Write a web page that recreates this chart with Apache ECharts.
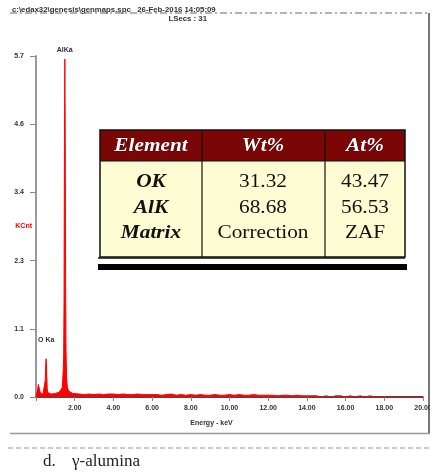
<!DOCTYPE html>
<html>
<head>
<meta charset="utf-8">
<script src="https://cdn.jsdelivr.net/npm/echarts@6/dist/echarts.min.js"></script>
<style>
  html, body { margin: 0; padding: 0; background: #fff; }
  #chart { width: 434px; height: 472px; }
</style>
</head>
<body>
<div id="chart"></div>
<script>
// EDS spectrum of gamma-alumina: [energy keV, counts in KCnt]
const spectrum = [
  [0.00, 0.00], [0.04, 0.03], [0.08, 0.12], [0.12, 0.21], [0.16, 0.20], [0.20, 0.10],
  [0.24, 0.06], [0.28, 0.05], [0.32, 0.04], [0.36, 0.05], [0.40, 0.06], [0.44, 0.08],
  [0.48, 0.28], [0.50, 0.52], [0.52, 0.64], [0.54, 0.56], [0.56, 0.32], [0.58, 0.13],
  [0.62, 0.07], [0.70, 0.06], [0.80, 0.05], [0.90, 0.06], [1.00, 0.06], [1.10, 0.07],
  [1.20, 0.08], [1.30, 0.10], [1.36, 0.16], [1.40, 0.40], [1.43, 0.68], [1.45, 1.60],
  [1.47, 4.10], [1.49, 5.65], [1.51, 4.40], [1.53, 2.00], [1.55, 0.80], [1.58, 0.33],
  [1.62, 0.17], [1.68, 0.10], [1.76, 0.07], [1.90, 0.06],
  [2.00, 0.04], [2.25, 0.05], [2.50, 0.04], [2.75, 0.05], [3.00, 0.04], [3.25, 0.05],
  [3.50, 0.04], [3.75, 0.05], [4.00, 0.05], [4.25, 0.04], [4.50, 0.05], [4.75, 0.04],
  [5.00, 0.04], [5.25, 0.05], [5.50, 0.04], [5.75, 0.04], [6.00, 0.04], [6.25, 0.04],
  [6.50, 0.03], [6.75, 0.04], [7.00, 0.05], [7.25, 0.03], [7.50, 0.04], [7.75, 0.03],
  [8.00, 0.04], [8.25, 0.03], [8.50, 0.04], [8.75, 0.03], [9.00, 0.03], [9.25, 0.04],
  [9.50, 0.03], [9.75, 0.03], [10.00, 0.04], [10.25, 0.03], [10.50, 0.04], [10.75, 0.03],
  [11.00, 0.03], [11.25, 0.04], [11.50, 0.03], [11.75, 0.03], [12.00, 0.03], [12.25, 0.03],
  [12.50, 0.02], [12.75, 0.03], [13.00, 0.03], [13.25, 0.02], [13.50, 0.03], [13.75, 0.02],
  [14.00, 0.02], [14.25, 0.02], [14.50, 0.02], [14.75, 0.00], [15.00, 0.02], [15.25, 0.00],
  [15.50, 0.02], [15.75, 0.02], [16.00, 0.00], [16.25, 0.02], [16.50, 0.00], [16.75, 0.02],
  [17.00, 0.00], [17.25, 0.02], [17.50, 0.00], [20.00, 0.00]
];

// Axis ranges
const energyMax = 20;
const energyStep = 2;
const countMax = 5.7;
const countStep = 1.14;

// Peak identifications
const peakNames = ['AlKa', 'O Ka'];
const peakEnergies = [1.486, 0.525];
const peakHeights = [5.65, 0.64];
const peakLabelGaps = [5, 15];

// Quantification table
const tableHeader = ['Element', 'Wt%', 'At%'];
const tableRows = [
  ['OK', '31.32', '43.47'],
  ['AlK', '68.68', '56.53'],
  ['Matrix', 'Correction', 'ZAF']
];

// Acquisition info and caption
const fileInfo = 'c:\\edax32\\genesis\\genmaps.spc   26-Feb-2016 14:05:09';
const liveTime = 'LSecs : 31';
const captionLetter = 'd.';
const captionText = 'γ-alumina';

const chart = echarts.init(document.getElementById('chart'), null, { renderer: 'canvas' });

const serif = '"Liberation Serif", "DejaVu Serif", serif';
const sans = '"Liberation Sans", Arial, sans-serif';

// ---- table drawing ----
const colEdges = [100, 202, 325, 405];
const headTop = 130, headBottom = 161, bodyBottom = 257;
const rowCenters = [182, 208, 233];
const tableEls = [];
tableEls.push({ type: 'rect', shape: { x: colEdges[0], y: headTop, width: colEdges[3] - colEdges[0], height: headBottom - headTop },
  style: { fill: '#7a0606' }, z: 10 });
tableEls.push({ type: 'rect', shape: { x: colEdges[0], y: headBottom, width: colEdges[3] - colEdges[0], height: bodyBottom - headBottom },
  style: { fill: '#fdfcd2' }, z: 10 });
tableEls.push({ type: 'rect', shape: { x: colEdges[0], y: headTop, width: colEdges[3] - colEdges[0], height: bodyBottom - headTop },
  style: { fill: null, stroke: '#111', lineWidth: 1.5 }, z: 12 });
tableEls.push({ type: 'line', shape: { x1: colEdges[0], y1: headBottom, x2: colEdges[3], y2: headBottom },
  style: { stroke: '#111', lineWidth: 1 }, z: 12 });
[colEdges[1], colEdges[2]].forEach(function (x) {
  tableEls.push({ type: 'line', shape: { x1: x, y1: headTop, x2: x, y2: bodyBottom },
    style: { stroke: '#111', lineWidth: 1.2 }, z: 12 });
});
tableEls.push({ type: 'line', shape: { x1: 98, y1: bodyBottom + 1, x2: 405, y2: bodyBottom + 1 },
  style: { stroke: '#111', lineWidth: 1.5 }, z: 12 });
tableEls.push({ type: 'rect', shape: { x: 98, y: 264, width: 309, height: 6 },
  style: { fill: '#000' }, z: 12 });

function cellText(str, cx, cy, opts) {
  return {
    type: 'text', x: cx, y: cy, scaleX: 1.12, z: 14,
    style: Object.assign({
      text: str, x: 0, y: 0, align: 'center', verticalAlign: 'middle',
      font: '20px ' + serif, fill: '#111'
    }, opts || {})
  };
}
const colCenters = [151, 263, 365];
tableHeader.forEach(function (h, i) {
  tableEls.push(cellText(h, colCenters[i], 146, {
    font: 'italic bold 19px ' + serif, fill: '#fff', stroke: '#3a0000', lineWidth: 0.6
  }));
});
tableRows.forEach(function (row, r) {
  row.forEach(function (v, c) {
    tableEls.push(cellText(v, colCenters[c], rowCenters[r],
      c === 0 ? { font: 'italic bold 19px ' + serif } : { font: '19px ' + serif }));
  });
});

// ---- frame, header and caption ----
const frameEls = [
  { type: 'line', shape: { x1: 10, y1: 13, x2: 430, y2: 13 },
    style: { stroke: '#9a9a9a', lineWidth: 1.5, lineDash: [7, 3, 2, 3] } },
  { type: 'line', shape: { x1: 429, y1: 13, x2: 429, y2: 434 },
    style: { stroke: '#777', lineWidth: 2 } },
  { type: 'line', shape: { x1: 10, y1: 433.5, x2: 430, y2: 433.5 },
    style: { stroke: '#999', lineWidth: 1.5 } },
  { type: 'line', shape: { x1: 8, y1: 448, x2: 430, y2: 448 },
    style: { stroke: '#999', lineWidth: 1.2, lineDash: [5, 3] } },
  { type: 'text', x: 12, y: 10, style: { text: fileInfo, font: 'bold 7.8px ' + sans, fill: '#333', verticalAlign: 'middle' } },
  { type: 'text', x: 207, y: 19, style: { text: liveTime, font: 'bold 7.8px ' + sans, fill: '#333', align: 'right', verticalAlign: 'middle' } },
  { type: 'text', x: 43, y: 462, style: { text: captionLetter, font: '17px ' + serif, fill: '#222', verticalAlign: 'middle' } },
  { type: 'text', x: 72, y: 462, style: { text: captionText, font: '17px ' + serif, fill: '#222', verticalAlign: 'middle' } },
  // mask the axis label that runs past the right border
  { type: 'rect', shape: { x: 430, y: 380, width: 4, height: 50 }, style: { fill: '#fff' }, z: 20 }
];

const option = {
  animation: false,
  backgroundColor: '#fff',
  grid: { left: 36, right: 11, top: 56, bottom: 75, containLabel: false, outerBoundsMode: 'none' },
  xAxis: {
    type: 'value', min: 0, max: energyMax, interval: energyStep,
    name: 'Energy - keV', nameLocation: 'middle', nameGap: 23, nameMoveOverlap: false,
    nameTextStyle: { fontFamily: sans, fontSize: 7, fontWeight: 'bold', color: '#333', padding: [0, 36, 0, 0] },
    axisLine: { lineStyle: { color: '#111', width: 1.5 } },
    axisTick: { show: true, length: 4, lineStyle: { color: '#888' } },
    axisLabel: {
      fontFamily: sans, fontSize: 7, fontWeight: 'bold', color: '#333', margin: 8,
      formatter: function (v) { return v === 0 ? '' : v.toFixed(2); }
    },
    splitLine: { show: false }
  },
  yAxis: {
    type: 'value', min: 0, max: countMax, interval: countStep,
    name: 'KCnt', nameLocation: 'middle', nameRotate: 0, nameGap: 4, nameMoveOverlap: false,
    nameTextStyle: { fontFamily: sans, fontSize: 7, fontWeight: 'bold', color: '#ff0000', align: 'right', padding: [0, 0, 6, 0] },
    axisLine: { show: true, lineStyle: { color: '#9a9a9a', width: 2 } },
    axisTick: { show: true, length: 6, lineStyle: { color: '#888' } },
    axisLabel: {
      fontFamily: sans, fontSize: 7, fontWeight: 'bold', color: '#333', margin: 12,
      formatter: function (v) { return v.toFixed(1); }
    },
    splitLine: { show: false }
  },
  series: [{
    type: 'line',
    data: spectrum,
    showSymbol: false,
    lineStyle: { color: '#ff0000', width: 1 },
    areaStyle: { color: '#ff0000', opacity: 1 },
    markPoint: {
      symbol: 'circle', symbolSize: 0,
      data: peakNames.map(function (n, i) {
        return {
          name: n, coord: [peakEnergies[i], peakHeights[i]],
          label: {
            show: true, formatter: n, position: 'top', distance: peakLabelGaps[i],
            fontFamily: sans, fontSize: 7, fontWeight: 'bold', color: '#333'
          }
        };
      })
    },
    z: 3
  }],
  graphic: { elements: frameEls.concat(tableEls) }
};

chart.setOption(option);
</script>
</body>
</html>
